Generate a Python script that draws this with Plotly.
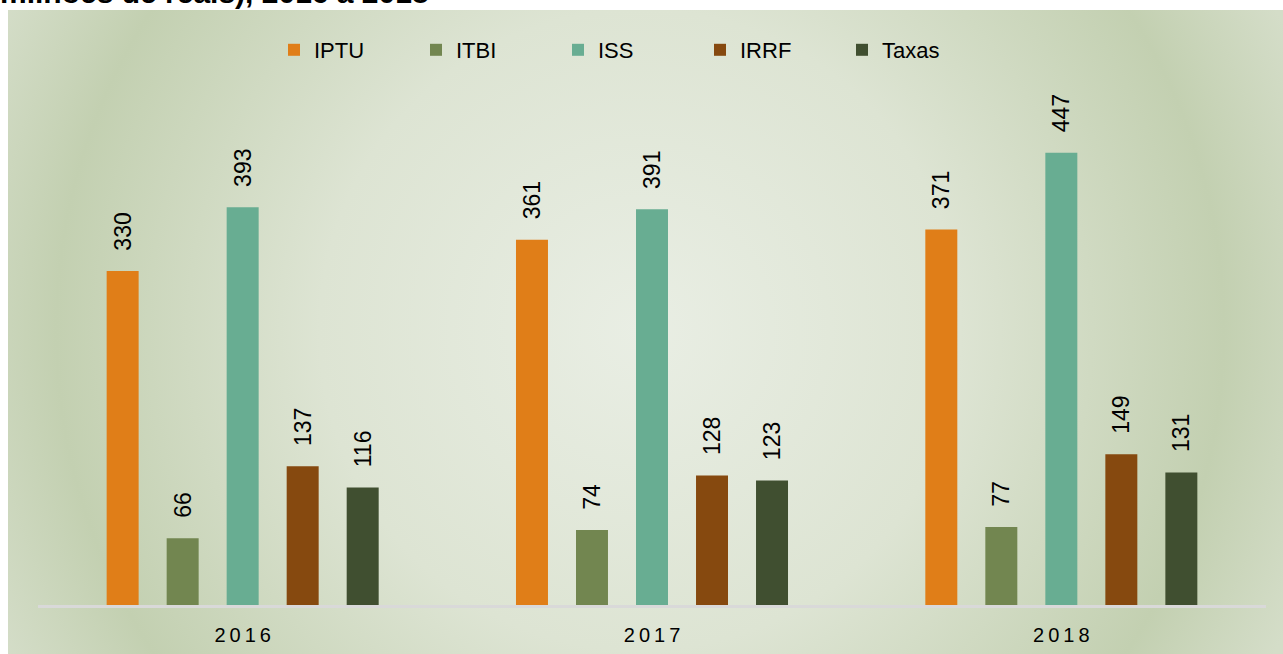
import base64
import plotly.graph_objects as go

# ---- data ----
years = ["2016", "2017", "2018"]
series_names = ["IPTU", "ITBI", "ISS", "IRRF", "Taxas"]
iptu = [330, 361, 371]
itbi = [66, 74, 77]
iss = [393, 391, 447]
irrf = [137, 128, 149]
taxas = [116, 123, 131]
colors = ["#E07E18", "#728650", "#68AD92", "#86490F", "#404F30"]
title_text = "milhões de reais), 2016 a 2018"

W, H = 1283, 654
L, R, T, B = 38, 17, 90, 49
pw, ph = W - L - R, H - T - B

fig = go.Figure()
for name, vals, col in zip(series_names, [iptu, itbi, iss, irrf, taxas], colors):
    fig.add_trace(go.Bar(
        name=name, x=years, y=vals, marker=dict(color=col, line=dict(width=0)),
        text=vals, texttemplate="\u00a0\u00a0\u2009%{y}", textposition="outside",
        textangle=-90, textfont=dict(family="Arial, Liberation Sans", size=23, color="#000"),
        cliponaxis=False, constraintext="none",
    ))

# radial gradient background via SVG image
bx0, by0, bw, bh = 8, 10, W - 8, H - 10
cx, cy = 640 - bx0, 330 - by0
svg = f"""<svg xmlns='http://www.w3.org/2000/svg' width='{bw}' height='{bh}' viewBox='0 0 {bw} {bh}' preserveAspectRatio='none'>
<defs><radialGradient id='g' gradientUnits='userSpaceOnUse' cx='{cx}' cy='{cy}' r='712'>
<stop offset='0' stop-color='#e9eee4'/>
<stop offset='0.45' stop-color='#dde4d3'/>
<stop offset='0.82' stop-color='#c3d0b1'/>
<stop offset='1' stop-color='#d4ddc8'/>
</radialGradient></defs>
<rect x='0' y='0' width='{bw}' height='{bh}' fill='url(#g)'/>
</svg>"""
uri = "data:image/svg+xml;base64," + base64.b64encode(svg.encode()).decode()

fig.add_layout_image(dict(
    source=uri, xref="paper", yref="paper",
    x=(bx0 - L) / pw, y=(H - B - by0) / ph,
    sizex=bw / pw, sizey=bh / ph, xanchor="left", yanchor="top",
    sizing="stretch", layer="below",
))

fig.add_annotation(
    text=f"<b>{title_text}</b>", xref="paper", yref="paper",
    x=(-1 - L) / pw, y=(H - B - 10) / ph, xanchor="left", yanchor="bottom",
    showarrow=False, font=dict(family="Arial, Liberation Sans", size=30, color="#000"),
    borderpad=0,
)

fig.update_layout(
    width=W, height=H, margin=dict(l=L, r=R, t=T, b=B, pad=0, autoexpand=False),
    paper_bgcolor="#ffffff", plot_bgcolor="rgba(0,0,0,0)",
    barmode="group", bargap=0.267, bargroupgap=0.467,
    showlegend=True,
    legend=dict(orientation="h", x=(274 - L) / pw, xanchor="left",
                y=(H - B - 29) / ph, yanchor="top",
                entrywidth=97, entrywidthmode="pixels",
                font=dict(family="Arial, Liberation Sans", size=22, color="#000"),
                bgcolor="rgba(0,0,0,0)", itemclick=False),
    xaxis=dict(showline=True, linecolor="#d9d9d9", linewidth=2.5, showgrid=False,
               zeroline=False, ticks="", tickmode="array", tickvals=years,
               ticktext=["\u2009".join(y) for y in years], ticklabelstandoff=10,
               automargin=False,
               tickfont=dict(family="Arial, Liberation Sans", size=20, color="#000")),
    yaxis=dict(visible=False, range=[0, ph / 1.012], showgrid=False, zeroline=False,
               automargin=False),
    font=dict(family="Arial, Liberation Sans"),
)

# remove the browser's default 8px body margin so the figure fills the window
fig.write_html("out.html", config={"displayModeBar": False},
               post_script="document.body.style.margin='0';")
